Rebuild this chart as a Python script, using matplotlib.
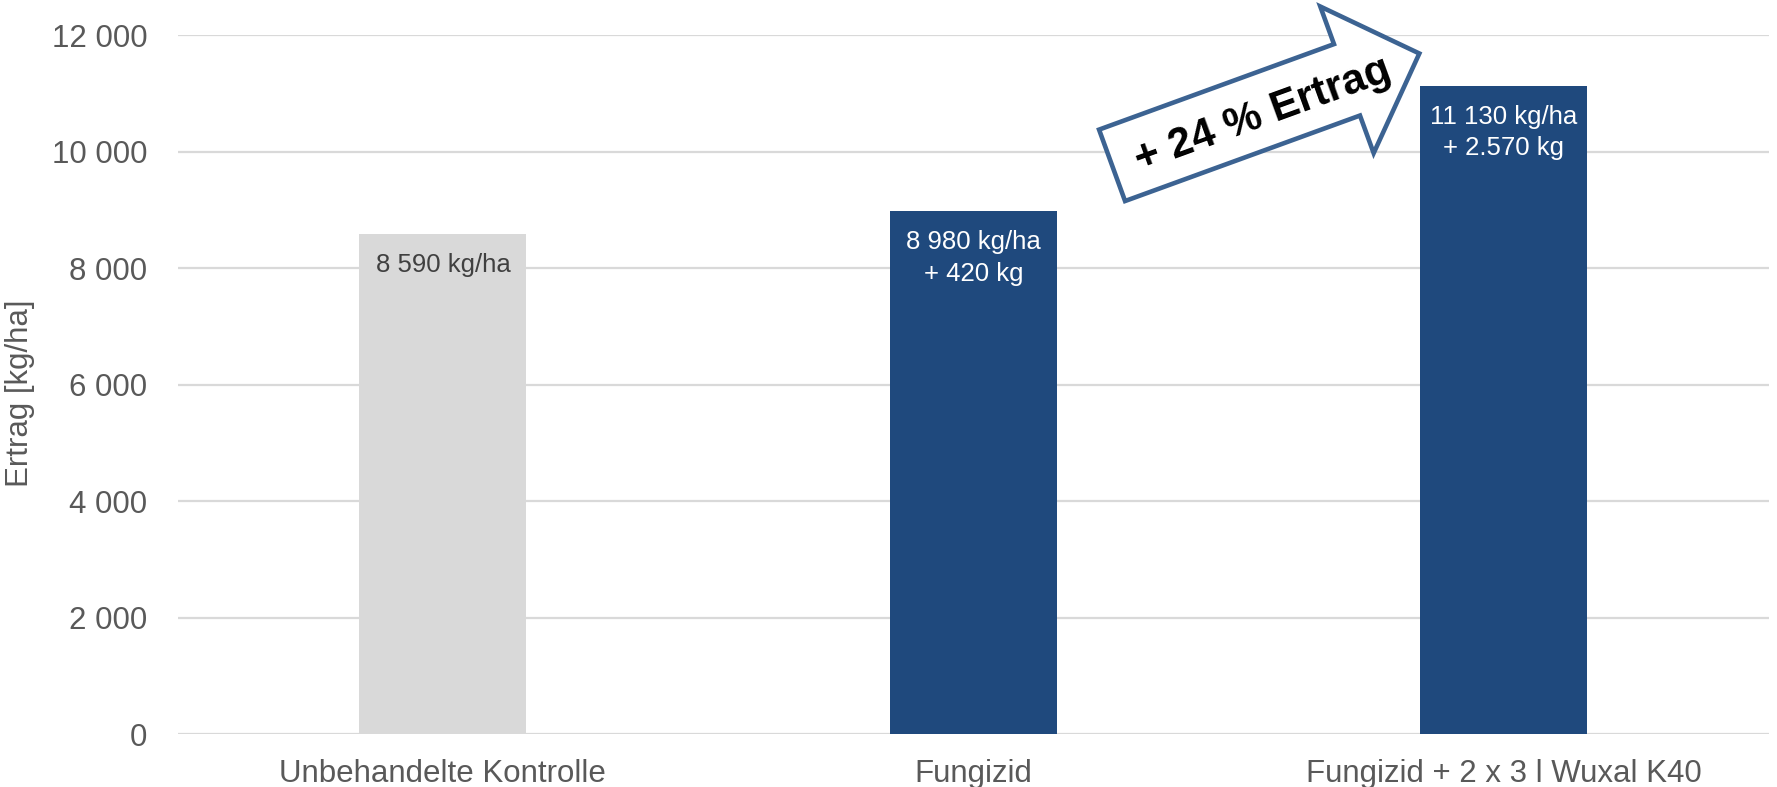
import numpy as np
import matplotlib
matplotlib.use("Agg")
import matplotlib.pyplot as plt
from matplotlib.patches import Polygon
from matplotlib.ticker import FuncFormatter

# ------------------------------------
# DATA
# ------------------------------------

categories = ["Unbehandelte Kontrolle", "Fungizid", "Fungizid + 2 x 3 l Wuxal K40"]
yields = [8590, 8980, 11130]
bar_labels = ["8 590 kg/ha", "8 980 kg/ha\n+ 420 kg", "11 130 kg/ha\n+ 2.570 kg"]
y_ticks = [0, 2000, 4000, 6000, 8000, 10000, 12000]
arrow_text = "+ 24 % Ertrag"
y_label = "Ertrag [kg/ha]"

# ------------------------------------
# STYLE
# ------------------------------------

BAR_COLORS = ["#D9D9D9", "#1F497D", "#1F497D"]
LABEL_COLORS = ["#404040", "white", "white"]
GRID_COLOR = "#D9D9D9"
TEXT_COLOR = "#595959"
ARROW_EDGE = "#3C6392"

plt.rcParams["font.family"] = ["Liberation Sans", "DejaVu Sans"]

fig = plt.figure(figsize=(17.77, 7.87), dpi=100)
ax = fig.add_axes([0.100, 0.0673, 0.8955, 0.8882])

x = np.arange(len(categories))
bars = ax.bar(x, yields, width=0.315, color=BAR_COLORS, zorder=3)

for xi, val, lab, col in zip(x, yields, bar_labels, LABEL_COLORS):
    ax.annotate(lab, xy=(xi, val), xytext=(0, -14), textcoords="offset points",
                ha="center", va="top", fontsize=18.5, color=col,
                linespacing=1.38, zorder=4)

ax.set_xlim(-0.5, 2.5)
ax.set_ylim(0, 12000)
ax.set_yticks(y_ticks)
ax.yaxis.set_major_formatter(FuncFormatter(lambda v, p: f"{v:,.0f}".replace(",", " ")))
ax.set_xticks(x)
ax.set_xticklabels(categories)
ax.tick_params(axis="both", length=0, labelsize=22.5, colors=TEXT_COLOR)
ax.tick_params(axis="y", pad=22)
ax.tick_params(axis="x", pad=18)

ax.yaxis.grid(True, color=GRID_COLOR, linewidth=1.6, zorder=0)
ax.set_axisbelow(True)
for s in ax.spines.values():
    s.set_visible(False)

fig.text(0.011, 0.5, y_label, rotation=90, ha="center", va="center",
         fontsize=22.5, color=TEXT_COLOR,
         family=["Liberation Sans Narrow", "Liberation Sans", "DejaVu Sans"])

# ------------------------------------
# BLOCK ARROW (display pixels)
# ------------------------------------

ANGLE = np.radians(20)
SHAFT_LEN = 250
SHAFT_H = 76
HEAD_OVER = 40
HEAD_LEN = 77

u = np.array([np.cos(ANGLE), np.sin(ANGLE)])
v = np.array([-np.sin(ANGLE), np.cos(ANGLE)])

origin = ax.transData.transform((1.286, 9150))

local = [
    (0, 0),
    (SHAFT_LEN, 0),
    (SHAFT_LEN, -HEAD_OVER),
    (SHAFT_LEN + HEAD_LEN, SHAFT_H / 2),
    (SHAFT_LEN, SHAFT_H + HEAD_OVER),
    (SHAFT_LEN, SHAFT_H),
    (0, SHAFT_H),
]
pts = np.array([origin + a * u + b * v for a, b in local])
arrow = Polygon(pts, closed=True, facecolor="white", edgecolor=ARROW_EDGE,
                linewidth=3.3, transform=None, zorder=5, joinstyle="miter")
fig.patches.append(arrow)

tc = origin + 159 * u + 34 * v
fig.text(tc[0] / fig.bbox.width, tc[1] / fig.bbox.height, arrow_text,
         rotation=20, rotation_mode="anchor", ha="center", va="center",
         fontsize=30.5, fontweight="bold", color="black", zorder=6)

fig.savefig("out.png", dpi=100)
